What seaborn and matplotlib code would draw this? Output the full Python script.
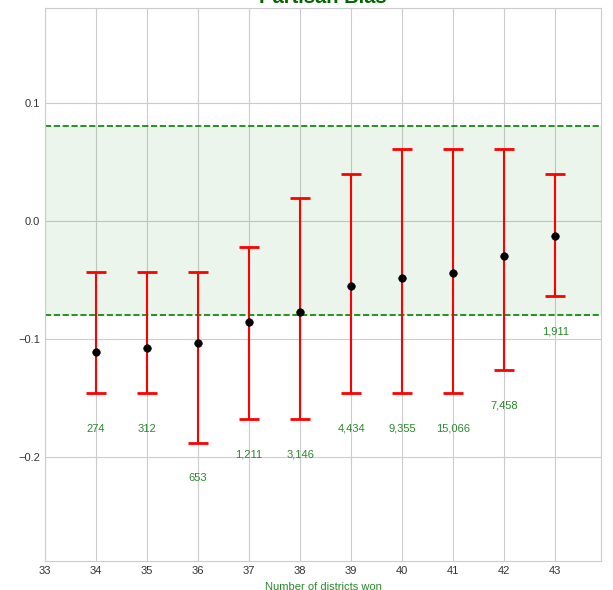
import numpy as np
import pandas as pd
import matplotlib
matplotlib.use('Agg')
import matplotlib.pyplot as plt
import seaborn as sns

# Data
districts = [34, 35, 36, 37, 38, 39, 40, 41, 42, 43]
bias_mean = [-0.111, -0.108, -0.103, -0.086, -0.077, -0.055, -0.048, -0.044, -0.030, -0.013]
bias_low = [-0.146, -0.146, -0.188, -0.168, -0.168, -0.146, -0.146, -0.146, -0.126, -0.064]
bias_high = [-0.043, -0.043, -0.043, -0.022, 0.019, 0.040, 0.061, 0.061, 0.061, 0.040]
counts = [274, 312, 653, 1211, 3146, 4434, 9355, 15066, 7458, 1911]
band = 0.08

df = pd.DataFrame({'districts': districts, 'mean': bias_mean,
                   'low': bias_low, 'high': bias_high, 'count': counts})

sns.set_style('whitegrid')
plt.rcParams['font.family'] = ['Liberation Sans', 'DejaVu Sans']

fig, ax = plt.subplots(figsize=(6.13, 5.9), dpi=100)
fig.subplots_adjust(left=0.073, right=0.981, top=0.986, bottom=0.049)

# acceptable range band
ax.axhspan(-band, band, color='green', alpha=0.08, lw=0)
ax.axhline(band, color='green', ls='--', lw=1.2)
ax.axhline(-band, color='green', ls='--', lw=1.2)

yerr = [df['mean'] - df['low'], df['high'] - df['mean']]
ax.errorbar(df['districts'], df['mean'], yerr=yerr, fmt='none',
            ecolor='red', elinewidth=1.5, capsize=7.5, capthick=2, zorder=3)
sns.scatterplot(data=df, x='districts', y='mean', color='black', s=30,
                edgecolor='black', zorder=4, ax=ax)

for _, r in df.iterrows():
    ax.text(r['districts'], r['low'] - 0.03, f"{int(r['count']):,}",
            color='#2a882a', fontsize=8, ha='center', va='center')

ax.set_xlim(33, 43.9)
ax.set_ylim(-0.288, 0.18)
ax.set_xticks(range(33, 44))
ax.set_yticks([-0.2, -0.1, 0.0, 0.1])
ax.tick_params(labelsize=8, length=0, labelcolor='#333333')
ax.set_xlabel('Number of districts won', color='#2a882a', fontsize=8, labelpad=4)
ax.set_ylabel('')
ax.set_title('Partisan Bias', color='#006400', fontsize=14.5, fontweight='bold', pad=4)

plt.savefig('out.png', dpi=100)
